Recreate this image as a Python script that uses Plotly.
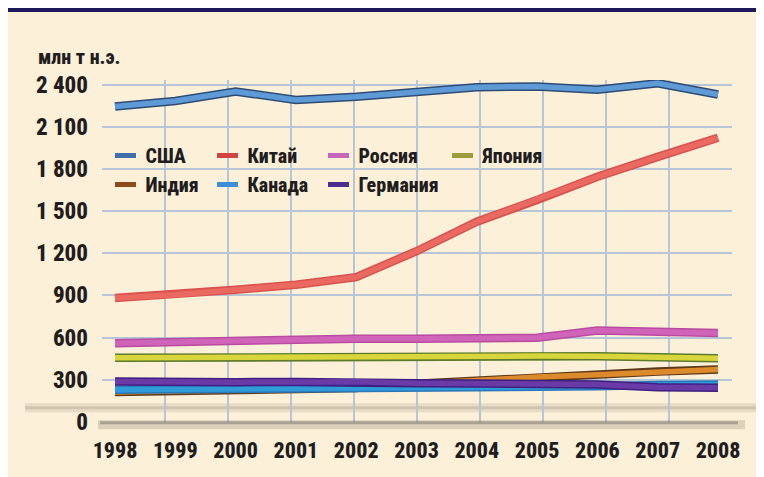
import plotly.graph_objects as go

years = [1998, 1999, 2000, 2001, 2002, 2003, 2004, 2005, 2006, 2007, 2008]
usa     = [2246, 2286, 2353, 2293, 2316, 2346, 2384, 2388, 2365, 2412, 2332]
china   = [881, 904, 940, 976, 1030, 1215, 1425, 1580, 1745, 1887, 2023]
russia  = [560, 570, 579, 585, 591, 591, 590, 598, 650, 640, 632]
japan   = [455, 458, 462, 462, 462, 464, 466, 468, 466, 460, 453]
india   = [212, 218, 226, 231, 240, 270, 295, 318, 335, 358, 372]
canada  = [228, 230, 235, 237, 237, 240, 245, 248, 252, 262, 266]
germany = [287, 280, 282, 283, 285, 275, 272, 270, 265, 245, 242]

names = ["США", "Китай", "Россия", "Япония", "Индия", "Канада", "Германия"]
series = [usa, china, russia, japan, india, canada, germany]
line_colors = ["#5e9bd6", "#ea6a62", "#d064b8", "#d8d63c", "#dc8a2c", "#2f9bd8", "#6a3aa6"]
edge_colors = ["#2c4c74", "#d8524e", "#b84ca0", "#5c7c2c", "#5c3a1a", "#2a78b8", "#3e2080"]
legend_colors = ["#3e6fa8", "#d04442", "#c566b8", "#9c9c3c", "#8c4c1c", "#3d8fd8", "#4c2c8c"]
legend_ids = ["legend", "legend2", "legend3", "legend4", "legend", "legend2", "legend3"]

y_ticks = [0, 300, 600, 900, 1200, 1500, 1800, 2100, 2400]
y_tick_text = ["0", "300", "600", "900", "1 200", "1 500", "1 800", "2 100", "2 400"]
unit_label = "млн т н.э."

# page offset (browser body margin)
OFF = 8
PAGE_W, PAGE_H = 764, 477
W, H = PAGE_W - OFF, PAGE_H - OFF

# y scale: value 0 at page px 422, 2400 at page px 85
Y_LO, Y_HI = -2, 2435
per = (422 - 85) / 2400
bottom_page = 422 - Y_LO * per
top_page = 422 - Y_HI * per
L, R = 102 - OFF, 32
T = top_page - OFF
B = PAGE_H - bottom_page
PW, PH = W - L - R, bottom_page - top_page

def px(p):  # page pixel -> paper x
    return (p - OFF - L) / PW

def py(p):  # page pixel -> paper y
    return (bottom_page - p) / PH

FONT = "Roboto Condensed, Noto Sans Condensed, DejaVu Sans Condensed, sans-serif"
TXT = "#211d1e"

def f(size):
    return dict(family=FONT, size=size, color=TXT, weight=800)

# x range: data 1998 at page px 115, 2008 at page px 718
scale = (718 - 115) / (years[-1] - years[0])
x0 = years[0] - (115 - 102) / scale
x1 = years[-1] + (732 - 718) / scale

fig = go.Figure()

for s, n, lc, ec in zip(series, names, line_colors, edge_colors):
    fig.add_trace(go.Scatter(x=years, y=s, mode="lines", showlegend=False, hoverinfo="skip",
                             line=dict(color=ec, width=8.5)))
    fig.add_trace(go.Scatter(x=years, y=s, mode="lines", showlegend=False, name=n,
                             line=dict(color=lc, width=5.5)))

for n, c, lid in zip(names, legend_colors, legend_ids):
    fig.add_trace(go.Scatter(x=[None], y=[None], mode="markers", name=n, legend=lid,
                             legendgroup=n, xaxis="x2",
                             marker=dict(symbol="line-ew", size=15, color=c,
                                         line=dict(color=c, width=5))))

legend_common = dict(orientation="v", bgcolor="rgba(0,0,0,0)", borderwidth=0,
                     font=f(20), xanchor="left", yanchor="top", tracegroupgap=0,
                     itemclick=False)
col_centers = [127.5, 229.5, 340.5, 464.5]
legend_top = 136
legends = {}
for i, lid in enumerate(["legend", "legend2", "legend3", "legend4"]):
    legends[lid] = dict(legend_common, x=px(col_centers[i] - 22), y=py(legend_top))

shapes = [
    dict(type="rect", xref="paper", yref="paper", x0=px(0), x1=px(PAGE_W + 10), y0=py(12), y1=py(OFF),
         fillcolor="#1c1a5c", line=dict(width=0), layer="below"),
    # floor shadow
    dict(type="line", xref="paper", yref="paper", x0=px(25), x1=px(PAGE_W), y0=py(408), y1=py(408),
         line=dict(color="rgba(150,140,125,0.2)", width=9), layer="below"),
    dict(type="line", xref="paper", yref="paper", x0=px(25), x1=px(PAGE_W), y0=py(408), y1=py(408),
         line=dict(color="rgba(150,140,125,0.28)", width=3), layer="below"),
    dict(type="line", xref="paper", yref="paper", x0=px(98), x1=px(745), y0=py(425), y1=py(425),
         line=dict(color="rgba(120,115,105,0.25)", width=9), layer="above"),
    dict(type="line", xref="paper", yref="paper", x0=px(100), x1=px(738), y0=py(423), y1=py(423),
         line=dict(color="rgba(120,115,105,0.5)", width=3), layer="above"),
]

fig.update_layout(
    width=W, height=H,
    margin=dict(l=L, r=R, t=T, b=B, pad=0),
    paper_bgcolor="#fdf0d9",
    plot_bgcolor="rgba(0,0,0,0)",
    font=f(20),
    xaxis=dict(range=[x0, x1], tickvals=years, ticktext=[str(y) for y in years],
               showgrid=False, zeroline=False, showline=False, ticks="",
               ticklabelstandoff=13, tickfont=f(22), fixedrange=True),
    xaxis2=dict(range=[x0, x1], overlaying="x", tick0=x0, dtick=(x1 - x0) / 10,
                showgrid=True, gridcolor="#b6c6d6", gridwidth=1.5, zeroline=False,
                showticklabels=False, ticks="", showline=False, fixedrange=True),
    yaxis=dict(range=[Y_LO, Y_HI], tickvals=y_ticks, ticktext=y_tick_text,
               showgrid=True, gridcolor="#b6c6d6", gridwidth=1.5, zeroline=False,
               showline=False, ticks="", ticklabelstandoff=13, tickfont=f(23),
               fixedrange=True),
    shapes=shapes,
    annotations=[dict(text=unit_label, xref="paper", yref="paper", x=px(36), y=py(57),
                      xanchor="left", yanchor="middle", showarrow=False, font=f(20))],
    **legends,
)

fig.write_html("out.html")
